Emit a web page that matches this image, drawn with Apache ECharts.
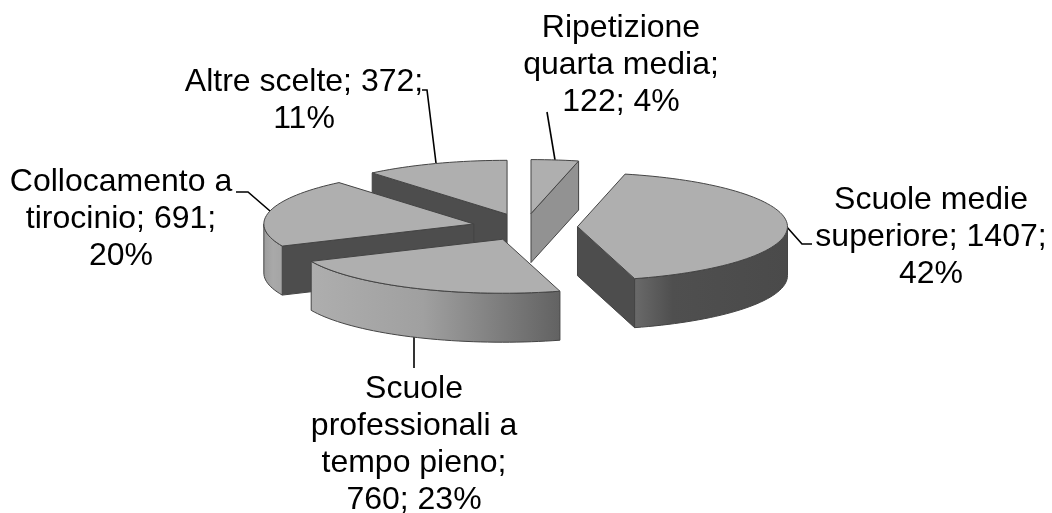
<!DOCTYPE html>
<html>
<head>
<meta charset="utf-8">
<style>
  html, body { margin: 0; padding: 0; background: #fff; }
  #chart { width: 1052px; height: 513px; }
</style>
<script src="https://cdn.jsdelivr.net/npm/echarts@6/dist/echarts.min.js"></script>
</head>
<body>
<div id="chart"></div>
<script>
// clockwise from 12 o'clock
const categories = ['Ripetizione quarta media', 'Scuole medie superiore', 'Scuole professionali a tempo pieno', 'Collocamento a tirocinio', 'Altre scelte'];
const values = [122, 1407, 760, 691, 372];
const labelLines = [
  ['Ripetizione', 'quarta media;', '122; 4%'],
  ['Scuole medie', 'superiore; 1407;', '42%'],
  ['Scuole', 'professionali a', 'tempo pieno;', '760; 23%'],
  ['Collocamento a', 'tirocinio; 691;', '20%'],
  ['Altre scelte; 372;', '11%']
];

// pie geometry
const cx = 525, cy = 227, rx = 210, ry = 54, depth = 49, explode = 0.25;
const total = values.reduce((a, b) => a + b, 0);
const drawOrder = [0, 4, 3, 1, 2];

let acc = 0;
const slices = values.map(v => {
  const s = { start: acc / total * 360, end: (acc + v) / total * 360 };
  acc += v;
  return s;
});

function pt(ox, oy, deg, dy) {
  const a = deg * Math.PI / 180;
  return [ox + rx * Math.sin(a), oy - ry * Math.cos(a) + (dy || 0)];
}

function arc(ox, oy, from, to, dy) {
  const pts = [];
  const n = Math.max(2, Math.ceil(Math.abs(to - from) / 2));
  for (let i = 0; i <= n; i++) pts.push(pt(ox, oy, from + (to - from) * i / n, dy));
  return pts;
}

// horizontal fill across a wall's bounding box
function grad(stops) {
  return {
    type: 'linear', x: 0, y: 0, x2: 1, y2: 0,
    colorStops: stops.map(s => ({ offset: s[0], color: s[1] }))
  };
}

const topColor = '#afafaf';
const edge = '#444';
const radialDark = '#4d4d4d';
const wallFills = {
  1: grad([[0, '#6a6a6a'], [0.25, '#4f4f4f'], [1, '#4a4a4a']]),
  2: grad([[0, '#aeaeae'], [0.45, '#a0a0a0'], [1, '#626262']]),
  3: grad([[0, '#9c9c9c'], [0.5, '#a9a9a9'], [1, '#a4a4a4']])
};

function poly(points, fill) {
  return {
    type: 'polygon',
    shape: { points },
    style: { fill, stroke: edge, lineWidth: 1, lineJoin: 'round' }
  };
}

function renderSlice(params, api) {
  const i = api.value(0);
  const s = slices[i];
  const mid = (s.start + s.end) / 2 * Math.PI / 180;
  const ox = cx + explode * rx * Math.sin(mid);
  const oy = cy - explode * ry * Math.cos(mid);
  const apex = [ox, oy];
  const apexLow = [ox, oy + depth];
  const children = [];

  // radial cut face seen on the slice's start or end side
  if (s.start > 180) {
    children.push(poly([apex, pt(ox, oy, s.start), pt(ox, oy, s.start, depth), apexLow], radialDark));
  }
  if (s.end < 180) {
    const fill = i === 0 ? '#929292' : radialDark;
    children.push(poly([apex, pt(ox, oy, s.end), pt(ox, oy, s.end, depth), apexLow], fill));
  }

  // outer wall, only the part in the front half of the ellipse
  const from = Math.max(s.start, 90), to = Math.min(s.end, 270);
  if (to > from) {
    children.push(poly(arc(ox, oy, from, to).concat(arc(ox, oy, to, from, depth)), wallFills[i]));
  }

  children.push(poly([apex].concat(arc(ox, oy, s.start, s.end)), topColor));
  return { type: 'group', children };
}

const labelStyle = { fontFamily: 'Liberation Sans', fontSize: 32, fill: '#000', textAlign: 'center', textVerticalAlign: 'middle', lineHeight: 37 };

function label(i, x, y) {
  return { type: 'text', x, y, style: Object.assign({ text: labelLines[i].join('\n') }, labelStyle) };
}

function leader(points) {
  return { type: 'polyline', shape: { points }, style: { fill: 'none', stroke: '#000', lineWidth: 1.6 } };
}

const chart = echarts.init(document.getElementById('chart'), null, { renderer: 'canvas' });
chart.setOption({
  animation: false,
  series: [{
    type: 'custom',
    coordinateSystem: 'none',
    renderItem: renderSlice,
    data: drawOrder.map(i => ({ name: categories[i], value: [i, values[i]] }))
  }],
  graphic: [
    label(0, 621, 65),
    label(1, 931, 237),
    label(2, 414, 445),
    label(3, 121, 219),
    label(4, 304, 101),
    leader([[547, 112], [555, 160]]),
    leader([[786, 226], [802, 244], [812, 244]]),
    leader([[414, 337], [414, 368]]),
    leader([[236, 192], [248, 192], [270, 211]]),
    leader([[422, 90], [427, 90], [436, 163]])
  ]
});
</script>
</body>
</html>
